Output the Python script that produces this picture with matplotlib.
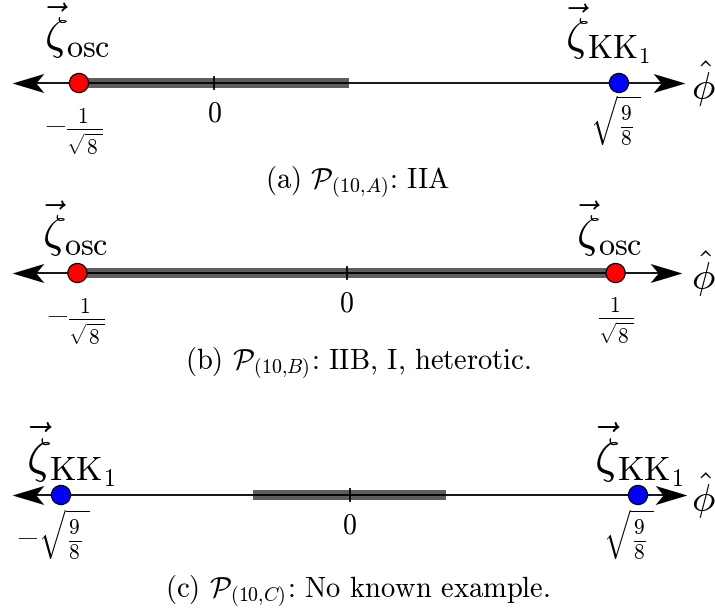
import numpy as np
import matplotlib.pyplot as plt
from matplotlib.path import Path

plt.rcParams['mathtext.fontset'] = 'cm'

# data: point positions on the phi-hat axis, colours, labels
a_pts = [-0.3536, 1.0607]
a_cols = ['red', 'blue']
a_names = [r'$\vec{\zeta}_{\mathrm{osc}}$', r'$\vec{\zeta}_{\mathrm{KK}_1}$']
a_ticks = [r'$-\frac{1}{\sqrt{8}}$', r'$\sqrt{\frac{9}{8}}$']
a_band = [-0.3536, 0.3536]

b_pts = [-0.3536, 0.3536]
b_cols = ['red', 'red']
b_names = [r'$\vec{\zeta}_{\mathrm{osc}}$', r'$\vec{\zeta}_{\mathrm{osc}}$']
b_ticks = [r'$-\frac{1}{\sqrt{8}}$', r'$\frac{1}{\sqrt{8}}$']
b_band = [-0.3536, 0.3536]

c_pts = [-1.0607, 1.0607]
c_cols = ['blue', 'blue']
c_names = [r'$\vec{\zeta}_{\mathrm{KK}_1}$', r'$\vec{\zeta}_{\mathrm{KK}_1}$']
c_ticks = [r'$-\sqrt{\frac{9}{8}}$', r'$\sqrt{\frac{9}{8}}$']
c_band = [-0.3536, 0.3536]

captions = [r'(a) $\mathcal{P}_{(10{,}A)}$: IIA',
            r'(b) $\mathcal{P}_{(10{,}B)}$: IIB, I, heterotic.',
            r'(c) $\mathcal{P}_{(10{,}C)}$: No known example.']

# layout (pixels): line y, zero x, px per unit, arrow tips
W, H = 715, 615
layout = [
    dict(line=83, zero=214, scale=381.8, tips=(12, 685), nsize=33,
         noff=[(-1.5, 22), (-12, 17)], toff=[(-6, -23), (-4, -10)], cap=189),
    dict(line=273, zero=346.5, scale=761, tips=(12, 682), nsize=33,
         noff=[(-2, 14), (-6.5, 14)], toff=[(-3, -23), (0, -22)], cap=370),
    dict(line=495, zero=349.5, scale=272, tips=(12, 687), nsize=35,
         noff=[(10, 6), (1, 6)], toff=[(-9, -12), (-10, -12)], cap=598),
]
panels = [(a_pts, a_cols, a_names, a_ticks, a_band),
          (b_pts, b_cols, b_names, b_ticks, b_band),
          (c_pts, c_cols, c_names, c_ticks, c_band)]

head = Path([(0, 0), (-1, 0.3), (-0.75, 0), (-1, -0.3), (0, 0)],
            [Path.MOVETO, Path.LINETO, Path.LINETO, Path.LINETO, Path.CLOSEPOLY])
head_l = Path([(0, 0), (1, 0.3), (0.75, 0), (1, -0.3), (0, 0)], head.codes)

fig = plt.figure(figsize=(W / 100, H / 100), dpi=100)
for i, ((pts, cols, names, ticks, band), L) in enumerate(zip(panels, layout)):
    ax = fig.add_axes([0, 0, 1, 1])
    ax.set_facecolor('none')
    ax.axis('off')
    s = L['scale']
    ax.set_xlim(-L['zero'] / s, (W - L['zero']) / s)
    ax.set_ylim(L['line'] - H, L['line'])
    xl = (L['tips'][0] - L['zero']) / s
    xr = (L['tips'][1] - L['zero']) / s
    ax.fill_between(band, -5, 5, color='#5e5e5e', lw=0, zorder=1)
    ax.plot([xl + 20 / s, xr - 20 / s], [0, 0], color='black', lw=1.3, zorder=2)
    ax.plot([0, 0], [-6, 6], color='black', lw=1.3, zorder=2)
    ax.plot([xr], [0], marker=head, ms=46, color='black', mew=0, zorder=3)
    ax.plot([xl], [0], marker=head_l, ms=46, color='black', mew=0, zorder=3)
    ax.scatter(pts, [0, 0], s=190, c=cols, edgecolors='black', linewidths=0.9, zorder=4)
    ax.text(0, -17, r'$0$', ha='center', va='top', fontsize=20)
    for x, nm, tk, no, to in zip(pts, names, ticks, L['noff'], L['toff']):
        ax.text(x + no[0] / s, no[1], nm, ha='center', va='bottom', fontsize=L['nsize'])
        ax.text(x + to[0] / s, to[1], tk, ha='center', va='top', fontsize=22)
    ax.text((703 - L['zero']) / s, -1, r'$\hat{\phi}$', ha='center', va='center', fontsize=28)
    fig.text(0.5, 1 - L['cap'] / H, captions[i], ha='center',
             va='baseline', fontsize=20.5, family='cmr10')

fig.savefig('out.png', dpi=100)
